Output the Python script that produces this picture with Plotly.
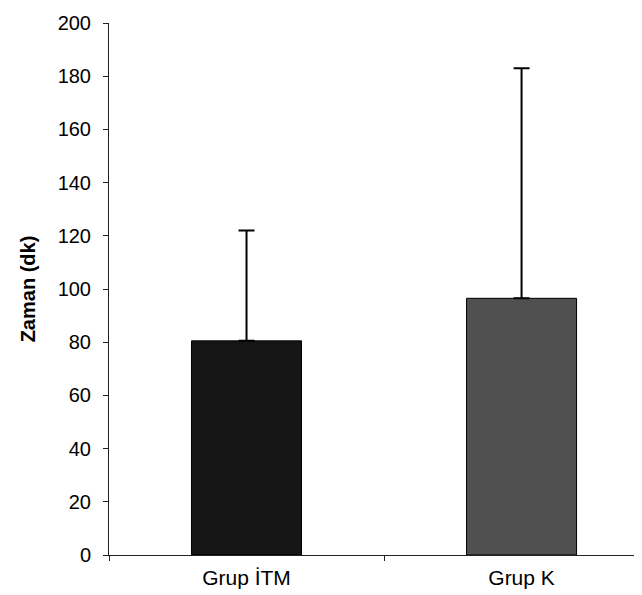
import plotly.graph_objects as go

categories = ["Grup İTM", "Grup K"]
means = [80.5, 96.5]
sds = [41.5, 86.5]
bar_colors = ["#151515", "#505050"]
y_ticks = [0, 20, 40, 60, 80, 100, 120, 140, 160, 180, 200]

fig = go.Figure(
    go.Bar(
        x=categories,
        y=means,
        width=0.4,
        marker=dict(color=bar_colors, line=dict(color="#000000", width=1)),
        error_y=dict(type="data", array=sds, symmetric=False, arrayminus=[0, 0],
                     color="#000000", thickness=2, width=8),
    )
)

fig.update_layout(
    width=642, height=595,
    margin=dict(l=101, r=0, t=15, b=48),
    paper_bgcolor="white", plot_bgcolor="white",
    font=dict(family="Liberation Sans, Arial, sans-serif", size=21, color="#000000"),
    showlegend=False,
)
fig.update_xaxes(
    range=[-0.5, 1.467], showline=True, linecolor="#222222", linewidth=1,
    ticks="outside", ticklen=5, tickcolor="#222222", tickson="boundaries",
    showgrid=False, zeroline=False, ticklabelstandoff=4,
    tickfont=dict(size=21),
)
fig.update_yaxes(
    range=[0, 200], tickvals=y_ticks, showline=True, linecolor="#222222", linewidth=1,
    ticks="outside", ticklen=5, tickcolor="#222222", showgrid=False, zeroline=False,
    ticklabelstandoff=8, tickfont=dict(size=20),
    title=dict(text="<b>Zaman (dk)</b>", standoff=16, font=dict(size=20)),
)

fig.write_html("out.html")
